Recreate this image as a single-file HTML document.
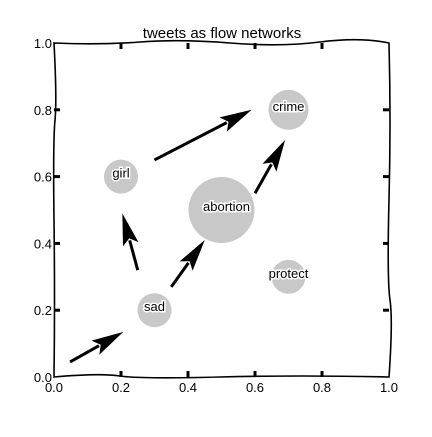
<!DOCTYPE html>
<html><head><meta charset="utf-8"><style>
body{margin:0;background:#fff}
text{font-family:"Liberation Sans",sans-serif}
</style></head><body>
<svg id="chart" width="432" height="432" viewBox="0 0 432 432">
<rect width="432" height="432" fill="#fff"/>
<g id="nodes"></g>
<g id="arrows"></g>
<g id="labels"></g>
<path fill="none" stroke="#000" stroke-width="1.6"
 d="M54,43 Q100,45 140,42 T230,43 T320,42 T389,43 Q391,120 389,200 T390,300 T389,377 Q300,375 220,377 T120,376 T54,377 Q55,300 54,220 T55,120 T54,43 Z"/>
<g id="ticks"></g>
<text x="222" y="38" text-anchor="middle" font-size="15">tweets as flow networks</text>
</svg>
<script>
const nodeNames=["girl","abortion","crime","protect","sad"];
const nodeX=[0.2,0.5,0.7,0.7,0.3];
const nodeY=[0.6,0.5,0.8,0.3,0.2];
const nodeSize=[17,33,20,17,17];
const arrowX0=[0.048,0.25,0.35,0.6,0.3];
const arrowY0=[0.045,0.32,0.27,0.55,0.65];
const arrowX1=[0.207,0.204,0.45,0.69,0.59];
const arrowY1=[0.135,0.49,0.41,0.71,0.80];
const tickVals=[0,0.2,0.4,0.6,0.8,1.0];
const tickLabels=["0.0","0.2","0.4","0.6","0.8","1.0"];
const X=v=>54+335*v, Y=v=>377-334*v;
const NS="http://www.w3.org/2000/svg";
function mk(t,a,p){const e=document.createElementNS(NS,t);for(const k in a)e.setAttribute(k,a[k]);p.appendChild(e);return e;}
const gN=document.getElementById('nodes'),gA=document.getElementById('arrows'),gL=document.getElementById('labels'),gT=document.getElementById('ticks');
nodeNames.forEach((n,i)=>{
 const c=mk('circle',{cx:X(nodeX[i]),cy:Y(nodeY[i]),r:nodeSize[i],fill:'#c8c8c8'},gN);
 
 
 const t=mk('text',{x:X(nodeX[i])+(n==='abortion'?5:0),y:Y(nodeY[i])+1,'text-anchor':'middle','font-size':13,stroke:'#fff','stroke-width':3,'paint-order':'stroke',fill:'#000'},gL);
 t.textContent=n;
 
 
});
arrowX0.forEach((_,i)=>{
 const x0=X(arrowX0[i]),y0=Y(arrowY0[i]),x1=X(arrowX1[i]),y1=Y(arrowY1[i]);
 const dx=x1-x0,dy=y1-y0,L=Math.hypot(dx,dy),ux=dx/L,uy=dy/L,px=-uy,py=ux;
 const hl=32,hw=8,bx=x1-ux*hl,by=y1-uy*hl;
 const g=mk('g',{},gA);
 
 
 mk('line',{x1:x0,y1:y0,x2:bx+ux*4,y2:by+uy*4,stroke:'#000','stroke-width':3},g);
 mk('polygon',{points:`${x1},${y1} ${bx+px*hw},${by+py*hw} ${bx+ux*6},${by+uy*6} ${bx-px*hw},${by-py*hw}`,fill:'#000'},g);
});
tickVals.forEach((v,i)=>{
 if(v>0&&v<1){
  mk('line',{x1:X(v),y1:377,x2:X(v),y2:371,stroke:'#000','stroke-width':3},gT);
  mk('line',{x1:X(v),y1:43,x2:X(v),y2:49,stroke:'#000','stroke-width':3},gT);
  mk('line',{x1:54,y1:Y(v),x2:60,y2:Y(v),stroke:'#000','stroke-width':3},gT);
  mk('line',{x1:389,y1:Y(v),x2:383,y2:Y(v),stroke:'#000','stroke-width':3},gT);
 }
 const tx=mk('text',{x:X(v),y:392,'text-anchor':'middle','font-size':13},gT);
 tx.textContent=tickLabels[i];
 
 
 const ty=mk('text',{x:52,y:Y(v)+5,'text-anchor':'end','font-size':13},gT);
 ty.textContent=tickLabels[i];
 
 
});
</script>
</body></html>
